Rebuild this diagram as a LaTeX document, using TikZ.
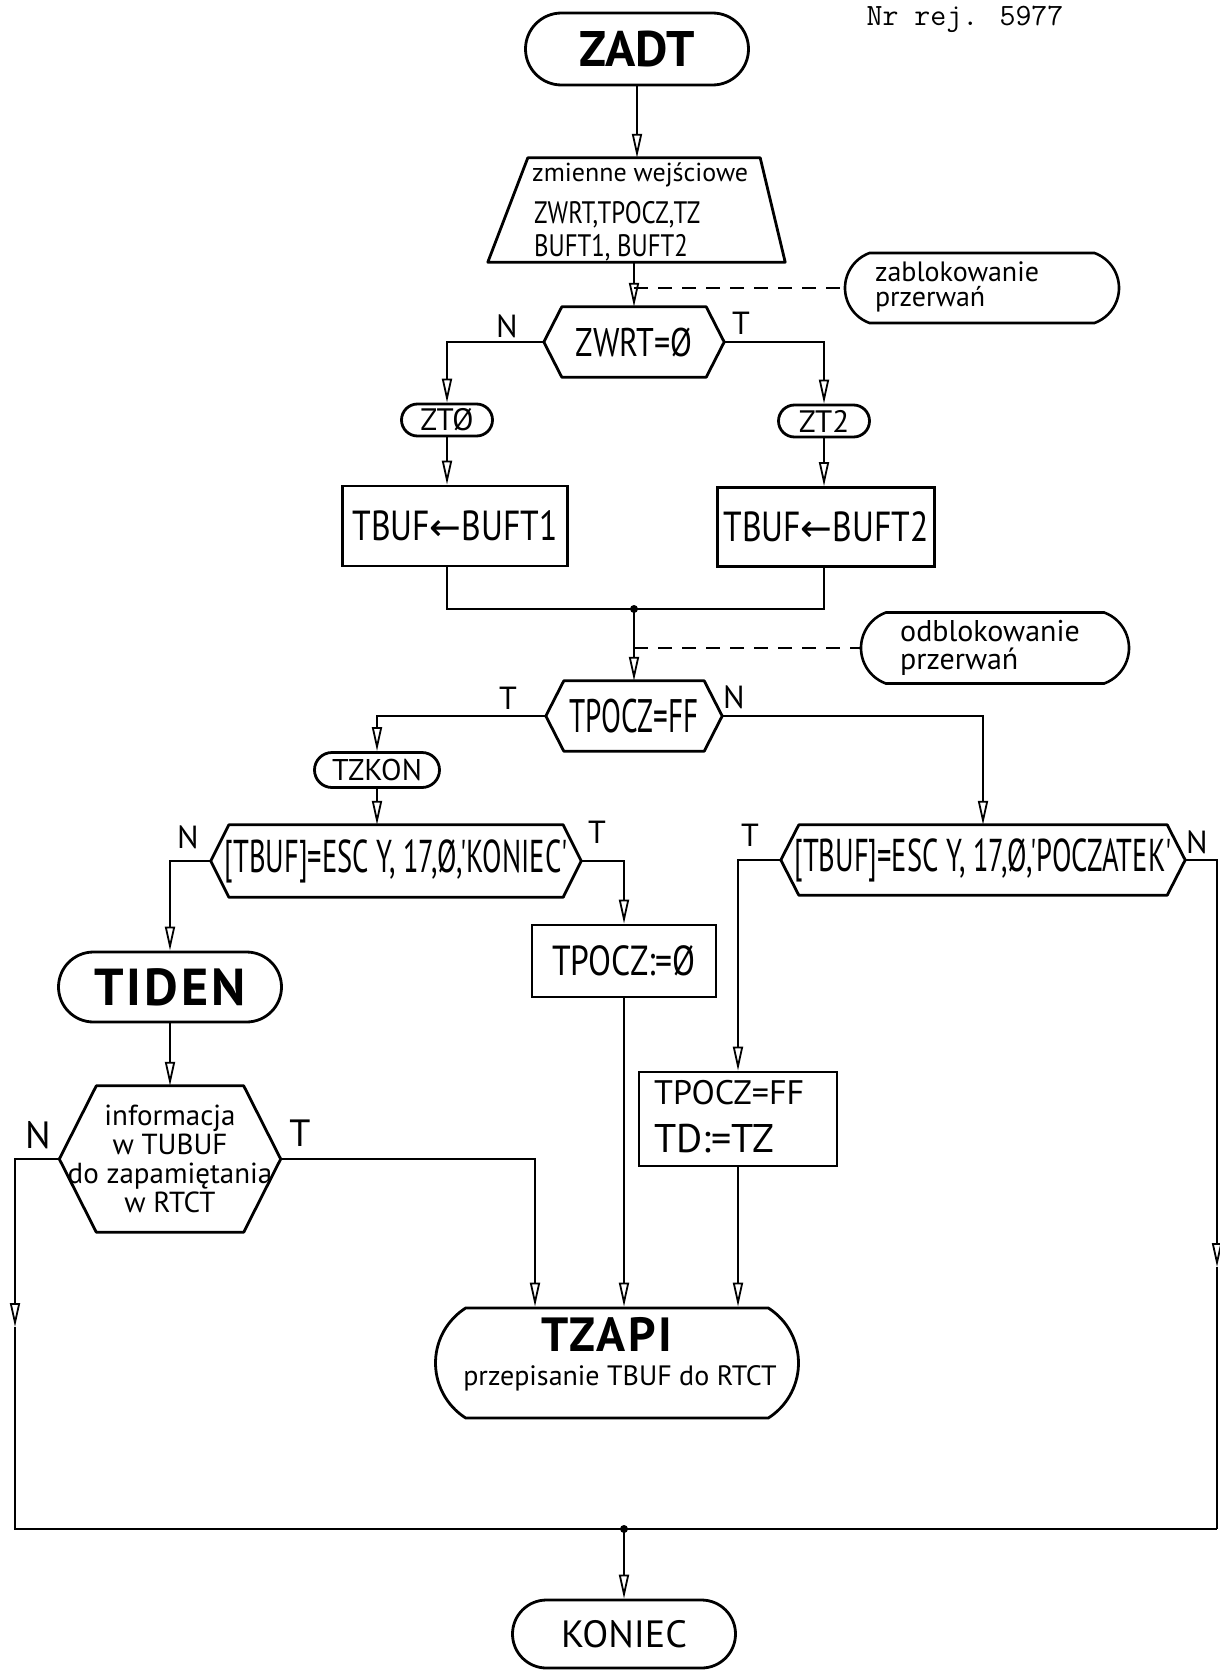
\documentclass[tikz,border=0pt]{standalone}
\usepackage{fontspec}
\setmainfont{PT Sans}
\newfontfamily\hn{PT Sans}
\newfontfamily\hm{PT Sans}[FakeStretch=0.8]
\newfontfamily\hc{PT Sans}[FakeStretch=0.62]
\newfontfamily\hbs{PT Sans}[LetterSpace=6]
\newfontfamily\dv{DejaVu Sans}
\usetikzlibrary{shapes.misc,arrows.meta,calc}
\newcommand\setfs[1]{\fontsize{#1}{#1}\selectfont}
\tikzset{
  line/.style={line width=2.4pt},
  boxline/.style={line width=2.8pt, line join=round},
  box/.style={draw, line width=2.8pt, rectangle, inner sep=0pt},
  term/.style={draw, line width=2.8pt, rounded rectangle, inner sep=0pt},
  anno/.style={draw, line width=2.6pt, rounded rectangle, rounded rectangle arc length=140, inner sep=0pt},
  core/.style={draw=none, rectangle, inner sep=0pt},
  txt/.style={inner sep=0pt, align=center},
  arr/.style={line width=2.4pt, -{Triangle[open,length=24pt,width=10pt,line width=1.8pt]}},
  dashline/.style={line width=2.2pt, dash pattern=on 14pt off 10pt},
  lbl/.style={inner sep=0pt, font=\hn\setfs{32}},
}
% hexagon decision: [text opts]{name}{cx}{cy}{half width to tips}{half height}{tip depth}{text}
\newcommand\hexnode[8][]{%
  \node[core, minimum width={2*(#5-#7)}, minimum height={2*#6}] (#2) at (#3,#4) {};
  \draw[boxline] (#2.north west) -- (#2.north east) -- ($(#2.east)+(#7,0)$) -- (#2.south east) -- (#2.south west) -- ($(#2.west)-(#7,0)$) -- cycle;
  \coordinate (#2-W) at ($(#2.west)-(#7,0)$);
  \coordinate (#2-E) at ($(#2.east)+(#7,0)$);
  \node[txt,#1] (#2-t) at (#2.center) {#8};
}
\begin{document}
\begin{tikzpicture}[x=1pt,y=-1pt]
\useasboundingbox (0,0) rectangle (1220,1670);

\node[inner sep=0pt, font=\ttfamily\setfs{31}] (nr) at (965,19) {Nr rej. 5977};

% start
\node[term, minimum width=223pt, minimum height=72pt, font=\hn\bfseries\setfs{50}] (zadt) at (637,49) {ZADT};

% input trapezoid
\node[core, minimum width=297pt, minimum height=104pt] (trap) at (636.5,210) {};
\draw[boxline] ([xshift=40pt]trap.north west) -- ([xshift=-25pt]trap.north east) -- (trap.south east) -- (trap.south west) -- cycle;
\node[txt, anchor=west, font=\hn\setfs{26}] (trapA) at (532,175) {zmienne wejściowe};
\node[txt, anchor=base west, font=\hm\setfs{31}] (trapB) at (534,223) {ZWRT,TPOCZ,TZ};
\node[txt, anchor=base west, font=\hm\setfs{31}] (trapC) at (534,256) {BUFT1, BUFT2};

% annotations
\node[anno, minimum width=274pt, minimum height=70pt] (zablok) at (982,288) {};
\node[txt, align=left, font=\hn\fontsize{28}{25}\selectfont] (zablok-t) at (957,287) {zablokowanie\\przerwań};
\node[anno, minimum width=268pt, minimum height=71pt] (odblok) at (995,648) {};
\node[txt, align=left, font=\hn\fontsize{30}{28}\selectfont] (odblok-t) at (990,648) {odblokowanie\\przerwań};

% decision ZWRT
\hexnode[font=\hm\setfs{40}]{zwrt}{634}{342}{90}{35}{18}{ZWRT=Ø}

\node[term, minimum width=91pt, minimum height=32pt, font=\hn\setfs{31}] (zt0) at (447,420) {ZTØ};
\node[term, minimum width=91pt, minimum height=32pt, font=\hn\setfs{31}] (zt2) at (824,421) {ZT2};

\node[box, minimum width=225pt, minimum height=80pt, font=\hm\setfs{42}] (buf1) at (455,526) {TBUF{\dv\setfs{38}←}BUFT1};
\node[box, minimum width=217pt, minimum height=79pt, font=\hm\setfs{42}] (buf2) at (826,527) {TBUF{\dv\setfs{38}←}BUFT2};

\coordinate (join) at (634,609);

% decision TPOCZ=FF
\hexnode[font=\hc\setfs{47}]{tpocz}{634}{716}{88}{35}{18}{TPOCZ=FF}

\node[term, minimum width=125pt, minimum height=35pt, font=\hn\setfs{30}] (tzkon) at (377,770) {TZKON};

\hexnode[font=\hc\setfs{46}]{kondec}{396}{861}{185}{36}{18}{[TBUF]=ESC Y, 17,Ø,'KONIEC'}
\hexnode[font=\hc\setfs{46}]{pocdec}{983}{860}{202}{35}{18}{[TBUF]=ESC Y, 17,Ø,'POCZATEK'}

\node[term, minimum width=223pt, minimum height=70pt, font=\hbs\bfseries\setfs{52}] (tiden) at (170,987) {TIDEN};

\node[box, minimum width=184pt, minimum height=72pt, font=\hm\setfs{42}] (tpocz0) at (624,961) {TPOCZ:=Ø};

\node[box, minimum width=198pt, minimum height=94pt] (ffbox) at (738,1119) {};
\node[txt, anchor=west, font=\hn\setfs{34}] (ff-a) at (654,1093) {TPOCZ=FF};
\node[txt, anchor=west, font=\hn\setfs{40}] (ff-b) at (654,1139) {TD:=TZ};

\hexnode[font=\hn\setfs{29}]{info}{170}{1159}{110.5}{73}{37}{informacja\\w TUBUF\\do zapamiętania\\w RTCT}

\node[term, rounded rectangle arc length=115, minimum width=363pt, minimum height=110pt] (tzapi) at (617,1363) {};
\node[txt, font=\hbs\bfseries\setfs{48}] (tzapi-a) at (607,1334) {TZAPI};
\node[txt, font=\hn\setfs{28}] (tzapi-b) at (620,1378) {przepisanie TBUF do RTCT};

\node[term, minimum width=223pt, minimum height=68pt, font=\hn\setfs{38}] (koniec) at (624,1634) {KONIEC};

% labels
\node[lbl] (lN1) at (507,326) {N};
\node[lbl] (lT1) at (741,323) {T};
\node[lbl] (lT2) at (508,698) {T};
\node[lbl] (lN2) at (734,697) {N};
\node[lbl] (lN3) at (188,837) {N};
\node[lbl] (lT3) at (597,832) {T};
\node[lbl] (lT4) at (750,835) {T};
\node[lbl] (lN4) at (1197,842) {N};
\node[lbl, font=\hn\setfs{38}] (lN5) at (38,1135) {N};
\node[lbl, font=\hn\setfs{38}] (lT5) at (300,1133) {T};

% helper coordinates
\coordinate (rmid) at (1217,1267);
\coordinate (rbot) at (1217,1529);
\coordinate (lmid) at (15,1327);
\coordinate (lbot) at (15,1529);
\coordinate (join2) at (624,1529);

% connectors
\draw[arr] (zadt.south) -- (zadt.south |- trap.north);
\draw[arr] (zwrt.north |- trap.south) -- (zwrt.north);
\draw[dashline] (zwrt.north |- zablok.west) -- (zablok.west);
\draw[arr] (zwrt-W) -| (zt0.north);
\draw[arr] (zwrt-E) -| (zt2.north);
\draw[arr] (zt0.south) -- (zt0.south |- buf1.north);
\draw[arr] (zt2.south) -- (zt2.south |- buf2.north);
\draw[line] (zt0.south |- buf1.south) -- (zt0.south |- join) -- (zt2.south |- join) -- (zt2.south |- buf2.south);
\fill (join) circle (4pt);
\draw[arr] (join) -- (tpocz.north);
\draw[dashline] (tpocz.north |- odblok.west) -- (odblok.west);
\draw[arr] (tpocz-W) -| (tzkon.north);
\draw[arr] (tpocz-E) -| (pocdec.north);
\draw[arr] (tzkon.south) -- (tzkon.south |- kondec.north);
\draw[arr] (kondec-W) -| (tiden.north);
\draw[arr] (kondec-E) -| (tpocz0.north);
\draw[arr] (pocdec-W) -| (ffbox.north);
\draw[arr] (pocdec-E) -| (rmid);
\draw[line] (rmid) -- (rbot);
\draw[arr] (tiden.south) -- (info.north);
\draw[arr] (info-E) -| ([xshift=-82pt]tzapi.north);
\draw[arr] (tpocz0.south) -- (tpocz0.south |- tzapi.north);
\draw[arr] (ffbox.south) -- (ffbox.south |- tzapi.north);
\draw[arr] (info-W) -| (lmid);
\draw[line] (lmid) -- (lbot) -- (rbot);
\fill (join2) circle (4pt);
\draw[arr] (join2) -- (koniec.north);
\end{tikzpicture}
\end{document}
